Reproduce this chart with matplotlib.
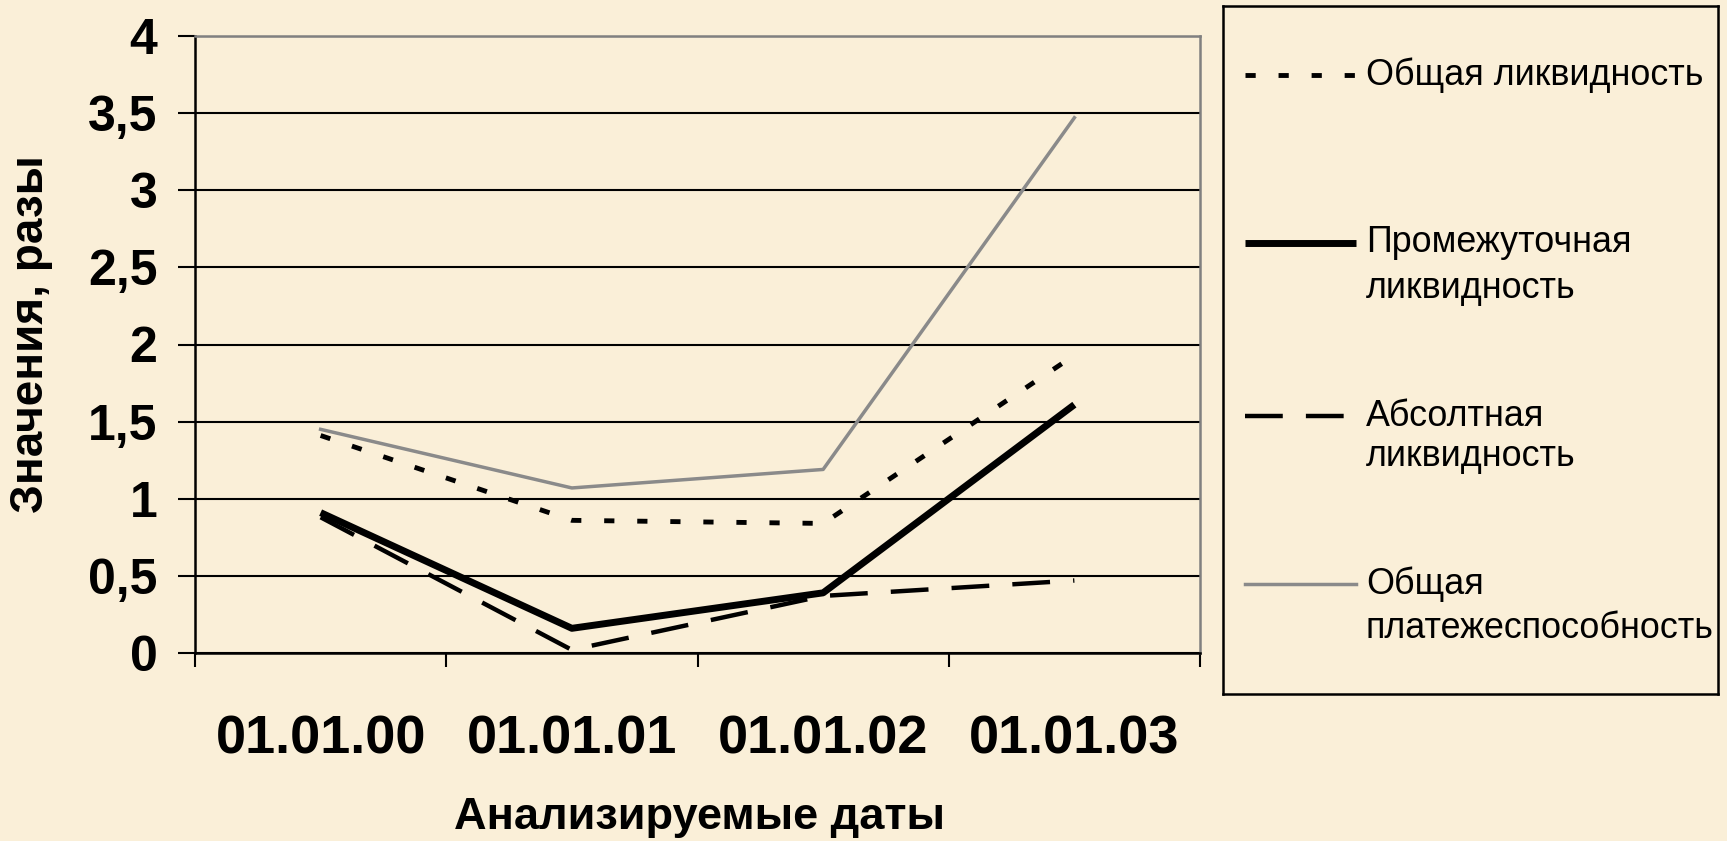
import matplotlib
matplotlib.use("Agg")
import matplotlib.pyplot as plt

# --- liquidity ratios by date ---
dates = ["01.01.00", "01.01.01", "01.01.02", "01.01.03"]
total_liq = [1.41, 0.86, 0.84, 1.93]        # Общая ликвидность
interm_liq = [0.91, 0.16, 0.39, 1.61]       # Промежуточная ликвидность
absolute_liq = [0.88, 0.02, 0.37, 0.47]     # Абсолютная ликвидность
solvency = [1.45, 1.07, 1.19, 3.47]         # Общая платежеспособность

labels = [
    ["Общая ликвидность"],
    ["Промежуточная", "ликвидность"],
    ["Абсолтная", "ликвидность"],
    ["Общая", "платежеспособность"],
]

bg = "#FAEFD8"
plt.rcParams["font.family"] = ["Liberation Sans", "DejaVu Sans"]

fig = plt.figure(figsize=(17.27, 8.41), dpi=100, facecolor=bg)
ax = fig.add_axes([195/1727, 1 - 653/841, 1005/1727, 617/841], facecolor=bg)

x = list(range(1, len(dates) + 1))
styles = [
    dict(color="black", lw=3.5, linestyle=(0, (2.1, 4.7)), dash_capstyle="butt"),
    dict(color="black", lw=5, solid_capstyle="butt"),
    dict(color="black", lw=3.2, linestyle=(0, (8.5, 5.2)), dash_capstyle="butt"),
    dict(color="#8a8a8a", lw=2.5),
]
series = [total_liq, interm_liq, absolute_liq, solvency]
for vals, st in zip(series, styles):
    ax.plot(x, vals, zorder=3, **st)

ax.set_xlim(0.5, len(dates) + 0.5)
ax.set_ylim(0, 4)
ax.set_yticks([i * 0.5 for i in range(9)])
ax.set_yticklabels(["0", "0,5", "1", "1,5", "2", "2,5", "3", "3,5", "4"],
                   fontsize=36, fontweight="bold")
ax.yaxis.grid(True, color="black", lw=1.5)
ax.set_axisbelow(True)

# category boundaries get the tick marks, labels sit in the middle
ax.set_xticks([i + 0.5 for i in range(len(dates) + 1)])
ax.set_xticklabels([])
ax.set_xticks(x, minor=True)
ax.set_xticklabels(dates, minor=True, fontsize=39, fontweight="bold")
ax.tick_params(axis="x", which="major", direction="out", length=10, width=1.5)
ax.tick_params(axis="x", which="minor", length=0, pad=44)
ax.tick_params(axis="y", direction="out", length=12, width=1.5, pad=15)

for s in ["left", "bottom"]:
    ax.spines[s].set_color("black")
    ax.spines[s].set_linewidth(1.8)
for s in ["top", "right"]:
    ax.spines[s].set_color("#808080")
    ax.spines[s].set_linewidth(1.8)

fig.text(31/1727, 1 - 334/841, "Значения, разы", rotation=90, ha="center", va="center",
         fontsize=33, fontweight="bold")
fig.text(700/1727, 1 - 817/841, "Анализируемые даты", ha="center", va="center",
         fontsize=32.5, fontweight="bold")

# legend box drawn by hand so the entries keep their uneven spacing
lg = fig.add_axes([1223/1727, 1 - 694/841, 495/1727, 688/841], facecolor=bg)
lg.set_xlim(0, 495)
lg.set_ylim(688, 0)
lg.set_xticks([])
lg.set_yticks([])
for s in lg.spines.values():
    s.set_linewidth(1.8)
    s.set_color("black")

entry_y = [[69], [237, 283], [410, 450], [578, 622]]
for lines, ys, st in zip(labels, entry_y, styles):
    lg.plot([22, 133], [ys[0], ys[0]], **st)
    for txt, yy in zip(lines, ys):
        lg.text(143, yy, txt, fontsize=25.8, va="center", ha="left")

fig.savefig("out.png", dpi=100, facecolor=bg)
